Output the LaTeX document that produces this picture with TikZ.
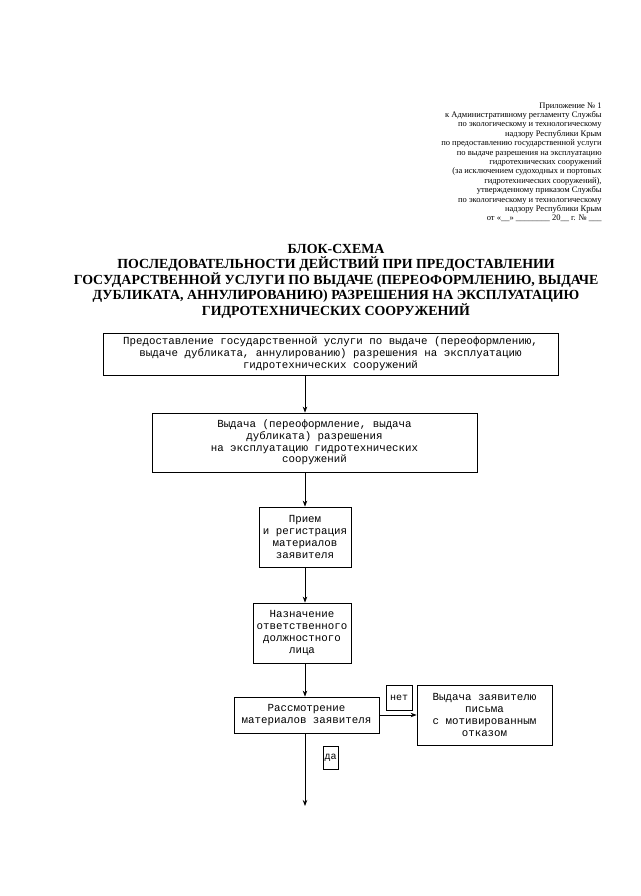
\documentclass[tikz,border=0pt]{standalone}
\usepackage{fontspec}
\setmainfont{Liberation Serif}
\setmonofont{Liberation Mono}
\usetikzlibrary{arrows.meta}
\tikzstyle{blok}=[draw,line width=0.8pt,align=center,inner sep=2pt,font=\ttfamily\fontsize{10.8}{11.8}\selectfont]
\tikzstyle{metka}=[draw,line width=0.8pt,inner sep=0pt,font=\ttfamily\fontsize{10}{10}\selectfont]
\tikzset{every picture/.style={line width=0.8pt}}

\begin{document}
\begin{tikzpicture}[x=1pt,y=-1pt]
\useasboundingbox (0,0) rectangle (640,896);
\node[anchor=north east,align=right,inner sep=0pt,font=\fontsize{8.5}{9.4}\selectfont] (pril) at (602,102) {Приложение № 1\\
к Административному регламенту Службы\\
по экологическому и технологическому\\
надзору Республики Крым\\
по предоставлению государственной услуги\\
по выдаче разрешения на эксплуатацию\\
гидротехнических сооружений\\
(за исключением судоходных и портовых\\
гидротехнических сооружений),\\
утвержденному приказом Службы\\
по экологическому и технологическому\\
надзору Республики Крым\\
от «\_\_» \_\_\_\_\_\_\_\_ 20\_\_ г. № \_\_\_};
\node[align=center,font=\bfseries\fontsize{13.9}{15.5}\selectfont] (titul) at (336,281) {БЛОК-СХЕМА\\
ПОСЛЕДОВАТЕЛЬНОСТИ ДЕЙСТВИЙ ПРИ ПРЕДОСТАВЛЕНИИ\\
ГОСУДАРСТВЕННОЙ УСЛУГИ ПО ВЫДАЧЕ (ПЕРЕОФОРМЛЕНИЮ, ВЫДАЧЕ\\
ДУБЛИКАТА, АННУЛИРОВАНИЮ) РАЗРЕШЕНИЯ НА ЭКСПЛУАТАЦИЮ\\
ГИДРОТЕХНИЧЕСКИХ СООРУЖЕНИЙ};
\node[blok,minimum width=455pt,minimum height=42pt] (predost) at (330.5,354) {Предоставление государственной услуги по выдаче (переоформлению,\\
выдаче дубликата, аннулированию) разрешения на эксплуатацию\\
гидротехнических сооружений};
\node[blok,minimum width=325pt,minimum height=59pt] (vydacha) at (314.5,442.5) {Выдача (переоформление, выдача\\
дубликата) разрешения\\
на эксплуатацию гидротехнических\\
сооружений};
\node[blok,minimum width=92pt,minimum height=60pt] (priem) at (305,537) {Прием\\
и регистрация\\
материалов\\
заявителя};
\node[blok,minimum width=98pt,minimum height=60pt] (naznach) at (302,633) {Назначение\\
ответственного\\
должностного\\
лица};
\node[blok,minimum width=145pt,minimum height=36pt] (rassm) at (306.5,715) {Рассмотрение\\
материалов заявителя};
\node[blok,minimum width=135pt,minimum height=60pt] (otkaz) at (484.5,715) {Выдача заявителю\\
письма\\
с мотивированным\\
отказом};
\node[metka,minimum width=26pt,minimum height=25pt] (net) at (399,697.5) {нет};
\node[metka,minimum width=15pt,minimum height=23pt] (da) at (330.5,757.5) {да};
\coordinate (konec) at (305,806);
\path[-{Stealth[length=6pt,width=4.5pt]}]
(predost.south -| priem) edge (vydacha.north -| priem)
(vydacha.south -| priem) edge (priem)
(priem) edge (naznach.north -| priem)
(naznach.south -| priem) edge (rassm.north -| priem)
(rassm.east |- otkaz) edge (otkaz)
(rassm.south -| priem) edge (konec);
\end{tikzpicture}
\end{document}
